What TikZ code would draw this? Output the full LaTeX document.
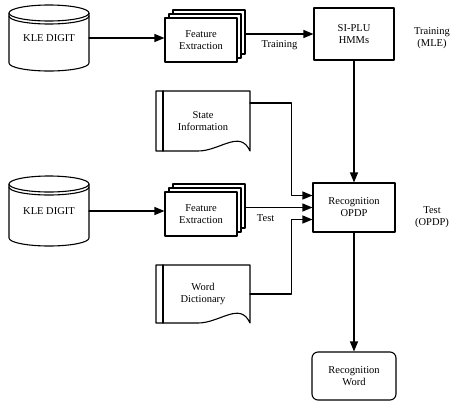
\documentclass[tikz,border=0pt]{standalone}
\usepackage{fontspec}
\setmainfont{Liberation Serif}
\usetikzlibrary{arrows.meta,positioning,calc,shadows}
\newcommand{\dgfont}{\fontsize{10.5}{12}\selectfont}
\tikzset{
    every picture/.style={line cap=round,line join=round},
    flowline/.style={draw,line width=1.1pt},
    flowarrow/.style={flowline,-{Triangle[length=10pt,width=8pt]}},
    procbox/.style={draw,fill=white,line width=1.1pt,minimum width=80pt,
      minimum height=50pt,inner sep=2pt,align=center},
    stackbox/.style={procbox,minimum width=72pt,minimum height=44pt,
      copy shadow={shadow xshift=8pt,shadow yshift=8pt,line width=1.1pt},
      copy shadow={shadow xshift=4pt,shadow yshift=4pt,line width=1.1pt}},
    endbox/.style={procbox,rounded corners=6pt},
    dbnode/.style={minimum width=80pt,minimum height=66pt,inner sep=0pt,
      outer sep=0pt,align=center},
    docnode/.style={minimum width=94pt,minimum height=60pt,inner sep=0pt,
      outer sep=0pt,align=center},
    sidelabel/.style={align=center,inner sep=1pt}
}
% disk outline round a dbnode
\newcommand{\drawdisk}[1]{%
  \draw[flowline] ([yshift=-8pt]#1.north west) -- ([yshift=8pt]#1.south west)
    arc[start angle=180,end angle=360,x radius=40pt,y radius=8pt]
    -- ([yshift=-8pt]#1.north east)
    arc[start angle=0,end angle=180,x radius=40pt,y radius=8pt];
  \draw[flowline] ([yshift=-8pt]#1.north west)
    arc[start angle=180,end angle=360,x radius=40pt,y radius=8pt];
  \draw[flowline] ([yshift=-11pt]#1.north west)
    arc[start angle=180,end angle=360,x radius=40pt,y radius=8pt];}
% paper sheet round a docnode
\newcommand{\drawdoc}[1]{%
  \draw[flowline] (#1.north west) -- (#1.north east) -- (#1.south east)
    .. controls +(-10pt,22pt) and +(22pt,0pt) .. ([xshift=-52pt]#1.south east)
    -- (#1.south west) -- cycle;
  \draw[flowline] ([xshift=7pt]#1.north west) -- ([xshift=7pt]#1.south west);}

\begin{document}
\begin{tikzpicture}[x=1pt,y=-1pt,font=\dgfont]
  \useasboundingbox (0,0) rectangle (452,405);
  % training path
  \node[dbnode] (db1) at (49,38) {KLE DIGIT};
  \drawdisk{db1}
  \node[stackbox] (fe1) at (201,40) {Feature\\Extraction};
  \node[procbox,minimum height=52pt] (hmm) at (354,34) {SI-PLU\\HMMs};
  \node[sidelabel] (trlbl) at (432,38) {Training\\(MLE)};
  \draw[flowarrow] (db1.east) -- (db1.east -| fe1.west);
  \draw[flowarrow] ([xshift=8pt]fe1.east |- hmm.west) -- (hmm.west)
    node[midway,below=3pt] {Training};
  % test path
  \node[docnode] (st) at (203,121) {State\\Information};
  \drawdoc{st}
  \node[dbnode,minimum height=70pt] (db2) at (49,211) {KLE DIGIT};
  \drawdisk{db2}
  \node[stackbox] (fe2) at (201,214) {Feature\\Extraction};
  \node[docnode,minimum height=58pt] (wd) at (203,294) {Word\\Dictionary};
  \drawdoc{wd}
  \node[procbox,minimum width=82pt,minimum height=49pt] (rec) at (354,207.5)
    {Recognition\\OPDP};
  \node[sidelabel] (tslbl) at (432,217) {Test\\(OPDP)};
  \node[endbox,minimum width=84pt,minimum height=48pt] (rw) at (354,376)
    {Recognition\\Word};
  \draw[flowarrow] (db2.east) -- (db2.east -| fe2.west);
  \draw[flowarrow] ([xshift=8pt]fe2.east |- rec.west) -- (rec.west)
    node[pos=.3,below=3pt] {Test};
  \draw[flowarrow] ([yshift=18pt]st.east) -| ([xshift=-21pt,yshift=12pt]rec.west)
    -- ([yshift=12pt]rec.west);
  \draw[flowarrow] (wd.east) -| ([xshift=-21pt,yshift=-12pt]rec.west)
    -- ([yshift=-12pt]rec.west);
  \draw[flowarrow] (hmm.south) -- (rec.north);
  \draw[flowarrow] (rec.south) -- (rw.north);
\end{tikzpicture}
\end{document}
